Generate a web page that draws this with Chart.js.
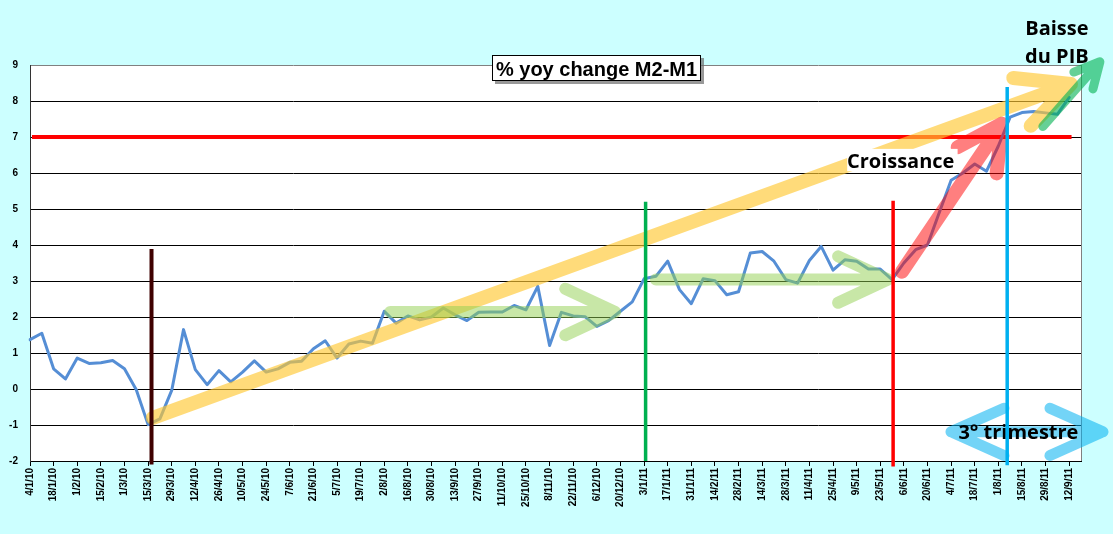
<!DOCTYPE html>
<html lang="fr">
<head>
<meta charset="UTF-8">
<title>% yoy change M2-M1</title>
<script src="https://cdn.jsdelivr.net/npm/chart.js"></script>
<style>
    html, body {
        margin: 0;
        padding: 0;
        background: #ccffff;
    }
    .wrap {
        position: relative;
        width: 1113px;
        height: 534px;
    }
</style>
</head>
<body>
<div class="wrap"><canvas id="chart"></canvas></div>
<script>
// semaines (lundi), une étiquette sur deux est affichée
const weeks = [
    '4/1/10', '11/1/10', '18/1/10', '25/1/10', '1/2/10', '8/2/10', '15/2/10', '22/2/10',
    '1/3/10', '8/3/10', '15/3/10', '22/3/10', '29/3/10', '5/4/10', '12/4/10', '19/4/10',
    '26/4/10', '3/5/10', '10/5/10', '17/5/10', '24/5/10', '31/5/10', '7/6/10', '14/6/10',
    '21/6/10', '28/6/10', '5/7/10', '12/7/10', '19/7/10', '26/7/10', '2/8/10', '9/8/10',
    '16/8/10', '23/8/10', '30/8/10', '6/9/10', '13/9/10', '20/9/10', '27/9/10', '4/10/10',
    '11/10/10', '18/10/10', '25/10/10', '1/11/10', '8/11/10', '15/11/10', '22/11/10', '29/11/10',
    '6/12/10', '13/12/10', '20/12/10', '27/12/10', '3/1/11', '10/1/11', '17/1/11', '24/1/11',
    '31/1/11', '7/2/11', '14/2/11', '21/2/11', '28/2/11', '7/3/11', '14/3/11', '21/3/11',
    '28/3/11', '4/4/11', '11/4/11', '18/4/11', '25/4/11', '2/5/11', '9/5/11', '16/5/11',
    '23/5/11', '30/5/11', '6/6/11', '13/6/11', '20/6/11', '27/6/11', '4/7/11', '11/7/11',
    '18/7/11', '25/7/11', '1/8/11', '8/8/11', '15/8/11', '22/8/11', '29/8/11', '5/9/11',
    '12/9/11', '19/9/11'
];

// % yoy change M2-M1
const m2m1 = [
    1.37, 1.55, 0.56, 0.28, 0.86, 0.71, 0.73, 0.79, 0.56, -0.02,
    -0.99, -0.83, -0.04, 1.65, 0.54, 0.12, 0.51, 0.20, 0.47, 0.78,
    0.47, 0.56, 0.74, 0.77, 1.12, 1.34, 0.86, 1.25, 1.33, 1.27,
    2.16, 1.83, 2.03, 1.92, 2.00, 2.25, 2.06, 1.90, 2.13, 2.14,
    2.14, 2.32, 2.20, 2.85, 1.21, 2.13, 2.03, 2.01, 1.74, 1.90,
    2.16, 2.42, 3.06, 3.13, 3.55, 2.76, 2.37, 3.06, 3.01, 2.62,
    2.70, 3.78, 3.82, 3.55, 3.04, 2.94, 3.57, 3.96, 3.30, 3.59,
    3.55, 3.33, 3.33, 3.04, 3.50, 3.87, 4.00, 4.90, 5.80, 6.00,
    6.25, 6.05, 6.75, 7.55, 7.68, 7.71, 7.67, 7.63, 8.10, null
];

const yMin = -2;
const yMax = 9;
const seuil = 7;

// repères ajoutés à la main sur le graphique (index de semaine, valeur)
const verticals = [
    { x: 10.29, top: 3.89, bottom: -2.1, color: '#3f0000', width: 4 },
    { x: 52.13, top: 5.2, bottom: -2.0, color: '#00b050', width: 3.5 },
    { x: 73.09, top: 5.23, bottom: -2.15, color: '#ff0000', width: 3.5 },
    { x: 82.75, top: 8.39, bottom: -2.12, color: '#00b0f0', width: 3.5 }
];

const arrows = [
    { from: [10.40, -0.80], to: [88.15, 8.47], color: 'rgba(255,200,50,0.65)', width: 14, head: 58, angle: 26 },
    { from: [30.50, 2.14], to: [49.55, 2.14], color: 'rgba(146,208,80,0.5)', width: 12, head: 55, angle: 25 },
    { from: [53.00, 3.04], to: [72.65, 3.04], color: 'rgba(146,208,80,0.5)', width: 12, head: 55, angle: 25 },
    { from: [73.84, 3.26], to: [82.30, 7.37], color: 'rgba(255,0,0,0.5)', width: 14, head: 50, angle: 28 },
    { from: [85.77, 7.29], to: [90.60, 9.09], color: 'rgba(0,176,80,0.6)', width: 9, head: 28, angle: 27 }
];

const trimestre = { from: [77.99, -1.19], to: [90.86, -1.19], color: 'rgba(0,176,240,0.55)', width: 11, head: 58, angle: 24 };

function drawArrow(ctx, fx, fy, tx, ty, a, both) {
    const ang = Math.atan2(ty - fy, tx - fx);
    const t = a.angle * Math.PI / 180;
    ctx.save();
    ctx.strokeStyle = a.color;
    ctx.lineWidth = a.width;
    ctx.lineCap = 'round';
    ctx.lineJoin = 'round';
    ctx.beginPath();
    ctx.moveTo(fx, fy);
    ctx.lineTo(tx, ty);
    ctx.moveTo(tx - a.head * Math.cos(ang - t), ty - a.head * Math.sin(ang - t));
    ctx.lineTo(tx, ty);
    ctx.lineTo(tx - a.head * Math.cos(ang + t), ty - a.head * Math.sin(ang + t));
    if (both) {
        ctx.moveTo(fx + a.head * Math.cos(ang - t), fy + a.head * Math.sin(ang - t));
        ctx.lineTo(fx, fy);
        ctx.lineTo(fx + a.head * Math.cos(ang + t), fy + a.head * Math.sin(ang + t));
    }
    ctx.stroke();
    ctx.restore();
}

const decor = {
    id: 'decor',
    beforeDraw(chart) {
        const { ctx, chartArea: a } = chart;
        ctx.save();
        ctx.fillStyle = '#ffffff';
        ctx.fillRect(a.left, a.top, a.right - a.left, a.bottom - a.top);
        ctx.restore();
    },
    beforeDatasetsDraw(chart) {
        const { ctx, chartArea: a, scales: { x, y } } = chart;
        ctx.save();
        // bord droit de la zone de traçage
        ctx.strokeStyle = '#808080';
        ctx.lineWidth = 1;
        ctx.beginPath();
        ctx.moveTo(a.right + 0.5, a.top);
        ctx.lineTo(a.right + 0.5, a.bottom);
        ctx.stroke();
        // seuil à 7 %
        ctx.strokeStyle = '#ff0000';
        ctx.lineWidth = 4;
        ctx.beginPath();
        ctx.moveTo(x.getPixelForValue(0.17), y.getPixelForValue(seuil));
        ctx.lineTo(x.getPixelForValue(88.2), y.getPixelForValue(seuil));
        ctx.stroke();
        ctx.restore();
    },
    afterDatasetsDraw(chart) {
        const { ctx, scales: { x, y } } = chart;
        arrows.forEach(a => {
            drawArrow(ctx, x.getPixelForValue(a.from[0]), y.getPixelForValue(a.from[1]),
                x.getPixelForValue(a.to[0]), y.getPixelForValue(a.to[1]), a, false);
        });
        drawArrow(ctx, x.getPixelForValue(trimestre.from[0]), y.getPixelForValue(trimestre.from[1]),
            x.getPixelForValue(trimestre.to[0]), y.getPixelForValue(trimestre.to[1]), trimestre, true);

        ctx.save();
        // cadre blanc derrière "Croissance"
        ctx.fillStyle = '#ffffff';
        const bx = x.getPixelForValue(69.2), bx2 = x.getPixelForValue(78.55);
        const by = y.getPixelForValue(6.67), by2 = y.getPixelForValue(6.05);
        ctx.fillRect(bx, by, bx2 - bx, by2 - by);

        ctx.fillStyle = '#000000';
        ctx.font = 'bold 20px "Open Sans"';
        ctx.textAlign = 'center';
        ctx.textBaseline = 'alphabetic';
        ctx.fillText('Croissance', x.getPixelForValue(73.73), y.getPixelForValue(6.15));
        ctx.fillText('3° trimestre', x.getPixelForValue(83.70), y.getPixelForValue(-1.38));
        ctx.fillText('Baisse', x.getPixelForValue(86.96), y.getPixelForValue(9.84));
        ctx.fillText('du PIB', x.getPixelForValue(86.96), y.getPixelForValue(9.06));

        verticals.forEach(v => {
            ctx.strokeStyle = v.color;
            ctx.lineWidth = v.width;
            ctx.beginPath();
            ctx.moveTo(x.getPixelForValue(v.x), y.getPixelForValue(v.top));
            ctx.lineTo(x.getPixelForValue(v.x), y.getPixelForValue(v.bottom));
            ctx.stroke();
        });
        ctx.restore();
    },
    afterDraw(chart) {
        const { ctx } = chart;
        ctx.save();
        // titre encadré avec ombre
        ctx.fillStyle = 'rgba(110,110,110,0.7)';
        ctx.fillRect(495, 58, 209, 26);
        ctx.fillStyle = '#ffffff';
        ctx.fillRect(492, 55, 209, 26);
        ctx.strokeStyle = '#000000';
        ctx.lineWidth = 1;
        ctx.strokeRect(492.5, 55.5, 208, 25);
        ctx.fillStyle = '#000000';
        ctx.font = 'bold 20px "Liberation Sans", Arial, sans-serif';
        ctx.textAlign = 'center';
        ctx.textBaseline = 'alphabetic';
        ctx.fillText('% yoy change M2-M1', 596.5, 76);
        ctx.restore();
    }
};

new Chart(document.getElementById('chart'), {
    type: 'line',
    data: {
        labels: weeks,
        datasets: [{
            label: '% yoy change M2-M1',
            data: m2m1,
            borderColor: '#558ed5',
            borderWidth: 3,
            borderJoinStyle: 'round',
            borderCapStyle: 'round',
            pointRadius: 0,
            tension: 0,
            fill: false
        }]
    },
    options: {
        responsive: true,
        maintainAspectRatio: false,
        animation: false,
        layout: { padding: { left: 0, right: 32, top: 65, bottom: 0 } },
        plugins: {
            legend: { display: false },
            tooltip: { enabled: false }
        },
        scales: {
            x: {
                offset: false,
                afterFit: s => { s.height = 73; },
                grid: {
                    drawOnChartArea: false,
                    drawTicks: true,
                    tickLength: 5,
                    color: c => (c.index % 2 === 0 ? '#000000' : 'rgba(0,0,0,0)')
                },
                border: { color: '#000000', width: 1 },
                ticks: {
                    autoSkip: false,
                    maxRotation: 90,
                    minRotation: 90,
                    padding: 2,
                    color: '#000000',
                    font: { family: '"Liberation Sans", Arial, sans-serif', size: 10, weight: 'bold' },
                    callback: (v, i) => (i % 2 === 0 ? weeks[i] : '')
                }
            },
            y: {
                min: yMin,
                max: yMax,
                afterFit: s => { s.width = 30; },
                grid: {
                    drawTicks: false,
                    color: c => (c.tick && c.tick.value === yMax ? '#808080' : '#000000'),
                    lineWidth: 1
                },
                border: { color: '#333333', width: 1 },
                ticks: {
                    stepSize: 1,
                    padding: 12,
                    color: '#000000',
                    font: { family: '"Liberation Sans", Arial, sans-serif', size: 10, weight: 'bold' }
                }
            }
        }
    },
    plugins: [decor]
});
</script>
</body>
</html>
